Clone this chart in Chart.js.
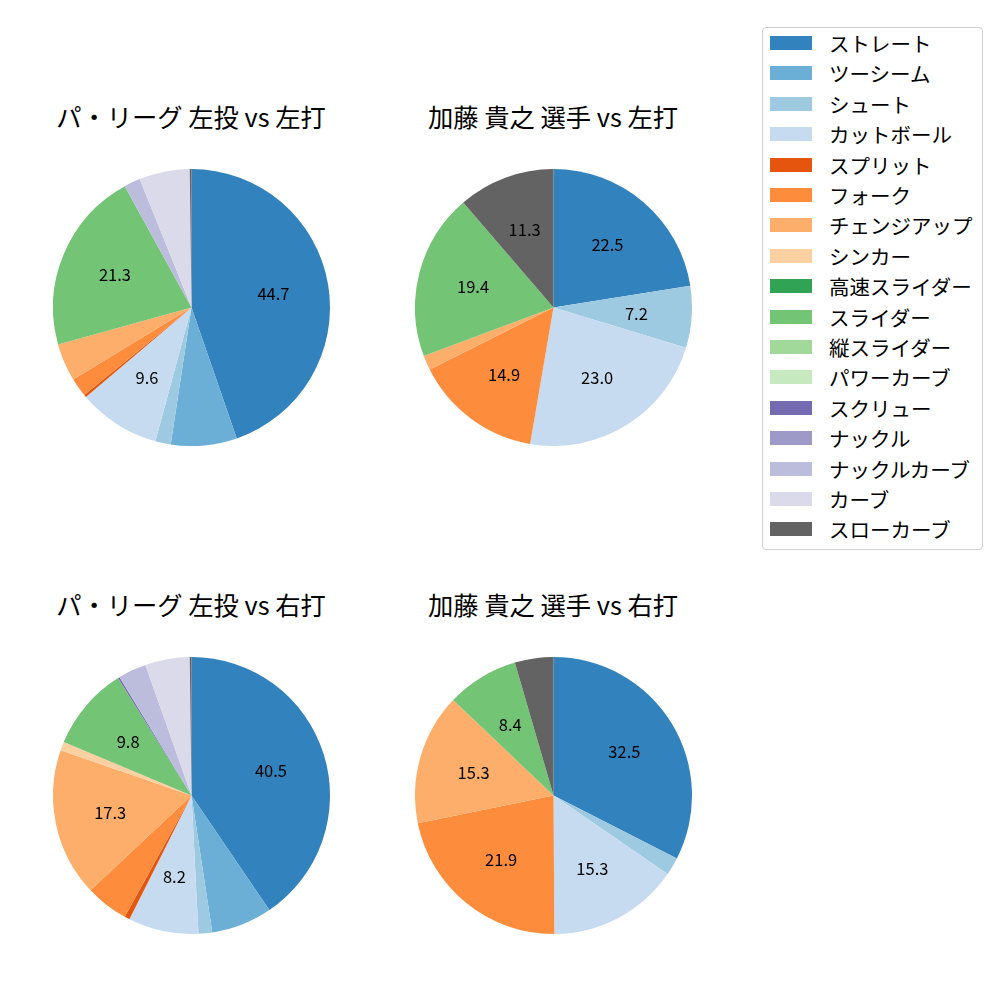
<!DOCTYPE html>
<html>
<head>
<meta charset="utf-8">
<script src="https://cdn.jsdelivr.net/npm/chart.js@4.4.1/dist/chart.umd.min.js"></script>
<style>
    body { margin: 0; background: #fff; font-family: "Noto Sans CJK JP", sans-serif; }
    #page { position: relative; width: 1000px; height: 1000px; }
    .title { position: absolute; width: 360px; text-align: center; font-size: 25.3px; color: #000; line-height: 1; }
    .pie { position: absolute; width: 277px; height: 277px; }
    #legend { position: absolute; left: 762px; top: 27px; width: 221px; height: 523px; border: 1px solid #d0d0d0; border-radius: 4px; box-sizing: border-box; }
    .row { position: absolute; left: 7px; height: 20px; display: flex; align-items: center; font-size: 20.5px; }
    .swatch { width: 42px; height: 14px; margin-right: 17px; }
</style>
</head>
<body>
<div id="page">
    <div id="legend"></div>
</div>
<script>
    const pitchTypes = ["ストレート", "ツーシーム", "シュート", "カットボール", "スプリット", "フォーク", "チェンジアップ", "シンカー",
        "高速スライダー", "スライダー", "縦スライダー", "パワーカーブ", "スクリュー", "ナックル", "ナックルカーブ", "カーブ", "スローカーブ"];
    const pitchColors = ["#3182bd", "#6baed6", "#9ecae1", "#c6dbef", "#e6550d", "#fd8d3c", "#fdae6b", "#fdd0a2",
        "#31a354", "#74c476", "#a1d99b", "#c7e9c0", "#756bb1", "#9e9ac8", "#bcbddc", "#dadaeb", "#636363"];

    const titles = ["パ・リーグ 左投 vs 左打", "加藤 貴之 選手 vs 左打", "パ・リーグ 左投 vs 右打", "加藤 貴之 選手 vs 右打"];
    const leagueVsLeft = [44.7, 7.7, 1.8, 9.6, 0.3, 2.2, 4.4, 0, 0, 21.3, 0, 0, 0, 0, 1.9, 5.9, 0.2];
    const katoVsLeft = [22.5, 0, 7.2, 23.0, 0, 14.9, 1.7, 0, 0, 19.4, 0, 0, 0, 0, 0, 0, 11.3];
    const leagueVsRight = [40.5, 7.1, 1.6, 8.2, 0.6, 5.0, 17.3, 1.0, 0, 9.8, 0, 0, 0.2, 0, 3.3, 5.2, 0.2];
    const katoVsRight = [32.5, 0, 2.1, 15.3, 0, 21.9, 15.3, 0, 0, 8.4, 0, 0, 0, 0, 0, 0, 4.5];
    const labelMin = [8, 5, 8, 5];

    const page = document.getElementById("page");
    const centers = [[191, 307.7], [553, 307.7], [191, 795.2], [553, 795.2]];
    const titleY = [104, 104, 592, 592];
    const radius = 138.5;

    // percent labels at 0.6 of the radius, like matplotlib's autopct
    const pctLabels = {
        id: "pctLabels",
        afterDatasetsDraw(chart, args, opts) {
            const ctx = chart.ctx;
            const data = chart.data.datasets[0].data;
            ctx.save();
            ctx.font = "16.5px 'Noto Sans CJK JP', sans-serif";
            ctx.fillStyle = "#000";
            ctx.textAlign = "center";
            ctx.textBaseline = "middle";
            chart.getDatasetMeta(0).data.forEach((arc, i) => {
                if (data[i] < opts.min) return;
                const mid = (arc.startAngle + arc.endAngle) / 2;
                const r = arc.outerRadius * 0.6;
                ctx.fillText(data[i].toFixed(1), arc.x + r * Math.cos(mid), arc.y + r * Math.sin(mid));
            });
            ctx.restore();
        }
    };

    [leagueVsLeft, katoVsLeft, leagueVsRight, katoVsRight].forEach((values, k) => {
        const t = document.createElement("div");
        t.className = "title";
        t.textContent = titles[k];
        t.style.left = (centers[k][0] - 180) + "px";
        t.style.top = titleY[k] + "px";
        page.appendChild(t);

        const box = document.createElement("div");
        box.className = "pie";
        box.style.left = (centers[k][0] - radius) + "px";
        box.style.top = (centers[k][1] - radius) + "px";
        const canvas = document.createElement("canvas");
        box.appendChild(canvas);
        page.appendChild(box);

        new Chart(canvas, {
            type: "pie",
            data: {
                labels: pitchTypes,
                datasets: [{
                    data: values,
                    backgroundColor: pitchColors,
                    borderWidth: 0
                }]
            },
            options: {
                responsive: true,
                maintainAspectRatio: false,
                animation: false,
                layout: { padding: 0 },
                plugins: {
                    legend: { display: false },
                    tooltip: { enabled: false },
                    pctLabels: { min: labelMin[k] }
                }
            },
            plugins: [pctLabels]
        });
    });

    const legend = document.getElementById("legend");
    pitchTypes.forEach((name, i) => {
        const row = document.createElement("div");
        row.className = "row";
        row.style.top = (5 + i * 30.4) + "px";
        row.innerHTML = `<span class="swatch" style="background:${pitchColors[i]}"></span><span>${name}</span>`;
        legend.appendChild(row);
    });
</script>
</body>
</html>
